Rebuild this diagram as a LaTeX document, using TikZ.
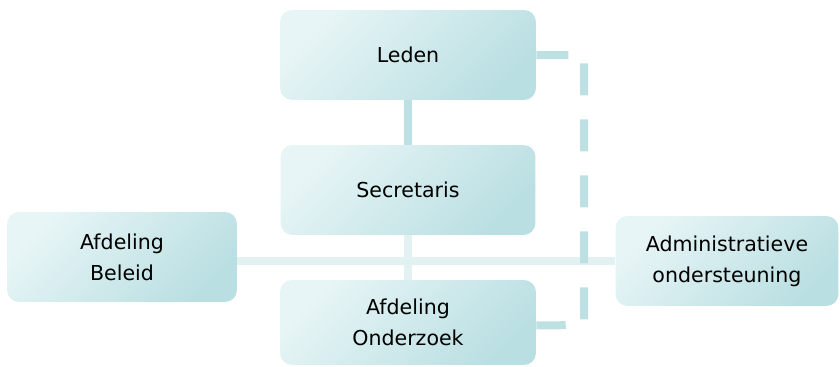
\documentclass[tikz,border=0pt]{standalone}
\usepackage{fontspec}
\setmainfont{DejaVu Sans}
\definecolor{boxlight}{RGB}{231,245,246}
\definecolor{boxdark}{RGB}{186,223,226}
\definecolor{linedark}{RGB}{189,224,227}
\definecolor{linepale}{RGB}{226,242,243}
\begin{document}
\begin{tikzpicture}[x=0.02cm,y=-0.02cm,
				unit/.style={rectangle,rounded corners=0.24cm,top color=boxlight,bottom color=boxdark,shading angle=45,
					minimum height=1.8cm,inner sep=0pt,align=center,font=\fontsize{11.7}{17.6}\selectfont},
				link/.style={line width=0.16cm,draw=linedark},
				weak/.style={line width=0.16cm,draw=linepale},
				staff/.style={link,dash pattern=on 0.64cm off 0.48cm}]
\useasboundingbox (0,0) rectangle (840,366);
\node[unit,minimum width=5.12cm] (leden) at (408,55) {Leden};
\node[unit,minimum width=5.1cm] (secretaris) at (408,190) {Secretaris};
\node[unit,minimum width=5.12cm,minimum height=1.7cm] (onderzoek) at (408,322.5) {Afdeling\\Onderzoek};
\node[unit,minimum width=4.6cm] (beleid) at (122,257) {Afdeling\\Beleid};
\node[unit,minimum width=4.46cm] (admin) at (727,261) {Administratieve\\ondersteuning};
\coordinate (bend) at (584,325);
\draw[weak] (beleid.east |- admin.west) -- (admin.west);
\draw[weak] (secretaris) -- (onderzoek);
\draw[link] (leden) -- (secretaris);
\draw[staff] (leden.east) -| (bend) -- ([yshift=-0.06cm]onderzoek.east);
\end{tikzpicture}
\end{document}
